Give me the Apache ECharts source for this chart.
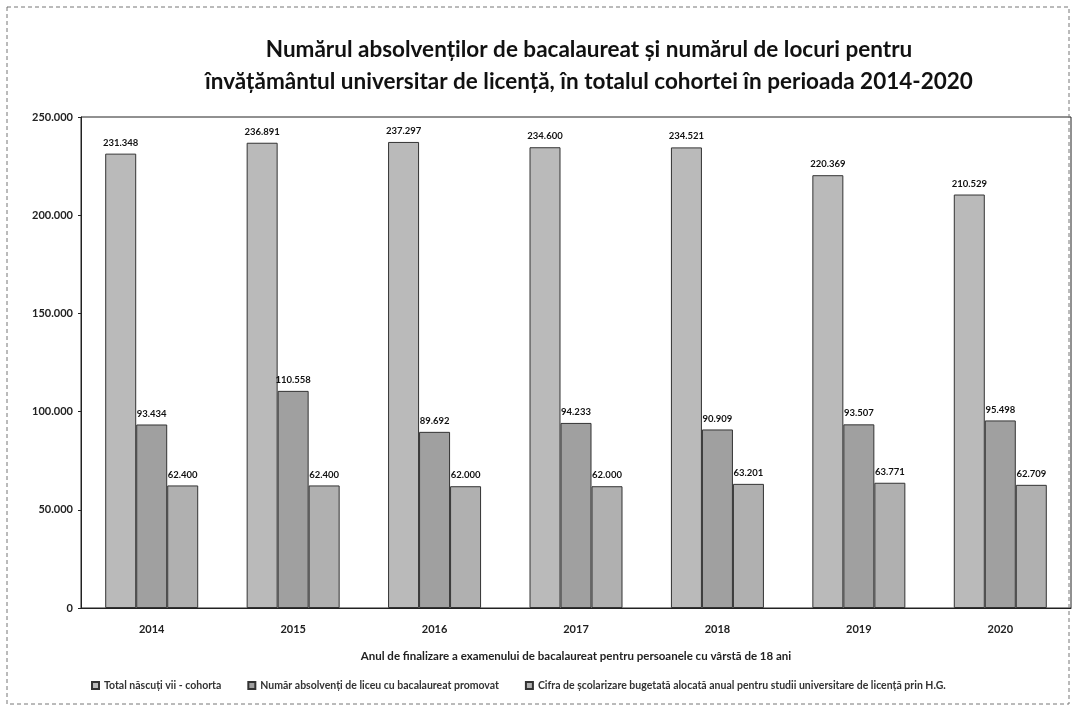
<!DOCTYPE html>
<html>
<head>
<meta charset="utf-8">
<script src="https://cdn.jsdelivr.net/npm/echarts@6/dist/echarts.min.js"></script>
<style>
  html, body { margin: 0; padding: 0; background: #fff; }
  #main { width: 1074px; height: 710px; }
</style>
</head>
<body>
<div id="main"></div>
<script>
// 数据
const years = ['2014', '2015', '2016', '2017', '2018', '2019', '2020']
const seriesNames = [
  'Total născuți vii - cohorta',
  'Număr absolvenți de liceu cu bacalaureat promovat',
  'Cifra de școlarizare bugetată alocată anual pentru studii universitare de licență prin H.G.'
]
const cohorta = [231348, 236891, 237297, 234600, 234521, 220369, 210529]
const absolventi = [93434, 110558, 89692, 94233, 90909, 93507, 95498]
const locuri = [62400, 62400, 62000, 62000, 63201, 63771, 62709]
const yTicks = [0, 50000, 100000, 150000, 200000, 250000]

const fmt = v => String(v).replace(/\B(?=(\d{3})+(?!\d))/g, '.')
const font = 'Lato, "Open Sans", sans-serif'

const myChart = echarts.init(document.getElementById('main'))

function barSeries(name, data, color) {
  return {
    name: name,
    type: 'bar',
    barWidth: 31,
    barGap: '0%',
    data: data,
    itemStyle: {
      color: color,
      borderColor: '#333',
      borderWidth: 1
    },
    label: {
      show: true,
      position: 'top',
      distance: 6,
      formatter: p => fmt(p.value),
      color: '#111',
      fontSize: 9.5,
      fontWeight: 'bold',
      fontFamily: font
    }
  }
}

const option = {
  animation: false,
  backgroundColor: '#fff',
  title: {
    text: 'Numărul absolvenților de bacalaureat și numărul de locuri pentru\nînvățământul universitar de licență, în totalul cohortei în perioada 2014-2020',
    left: 584,
    textAlign: 'center',
    top: 29,
    textStyle: {
      fontFamily: font,
      fontSize: 22.5,
      fontWeight: 'bold',
      color: '#111',
      lineHeight: 32
    }
  },
  graphic: [
    {
      type: 'rect',
      shape: { x: 7, y: 7, width: 1062, height: 697 },
      style: { fill: 'none', stroke: '#777', lineWidth: 1, lineDash: [4, 3] },
      silent: true
    }
  ],
  legend: {
    bottom: 14,
    left: 86,
    itemWidth: 7,
    itemHeight: 7,
    itemGap: 26,
    icon: 'rect',
    textStyle: {
      fontFamily: font,
      fontSize: 10.5,
      fontWeight: 'bold',
      color: '#333'
    },
    data: seriesNames
  },
  grid: {
    left: 81,
    right: 3,
    top: 117,
    bottom: 102,
    show: true,
    borderColor: '#222',
    borderWidth: 1
  },
  xAxis: {
    type: 'category',
    data: years,
    name: 'Anul de finalizare a examenului de bacalaureat pentru persoanele cu vârstă de 18 ani',
    nameLocation: 'middle',
    nameGap: 42,
    nameTextStyle: {
      fontFamily: font,
      fontSize: 11.5,
      fontWeight: 'bold',
      color: '#222'
    },
    axisLine: { lineStyle: { color: '#222' } },
    axisTick: { show: false },
    axisLabel: {
      margin: 16,
      fontFamily: font,
      fontSize: 11,
      fontWeight: 'bold',
      color: '#222'
    }
  },
  yAxis: {
    type: 'value',
    min: yTicks[0],
    max: yTicks[yTicks.length - 1],
    interval: yTicks[1] - yTicks[0],
    splitLine: { show: false },
    axisLine: { show: true, lineStyle: { color: '#222' } },
    axisTick: { show: true, length: 3, lineStyle: { color: '#222' } },
    axisLabel: {
      margin: 8,
      formatter: v => fmt(v),
      fontFamily: font,
      fontSize: 11,
      fontWeight: 'bold',
      color: '#222'
    }
  },
  series: [
    barSeries(seriesNames[0], cohorta, '#bababa'),
    barSeries(seriesNames[1], absolventi, '#a0a0a0'),
    barSeries(seriesNames[2], locuri, '#b0b0b0')
  ]
}

myChart.setOption(option)
window.addEventListener('resize', function() {
  myChart.resize()
})
</script>
</body>
</html>
